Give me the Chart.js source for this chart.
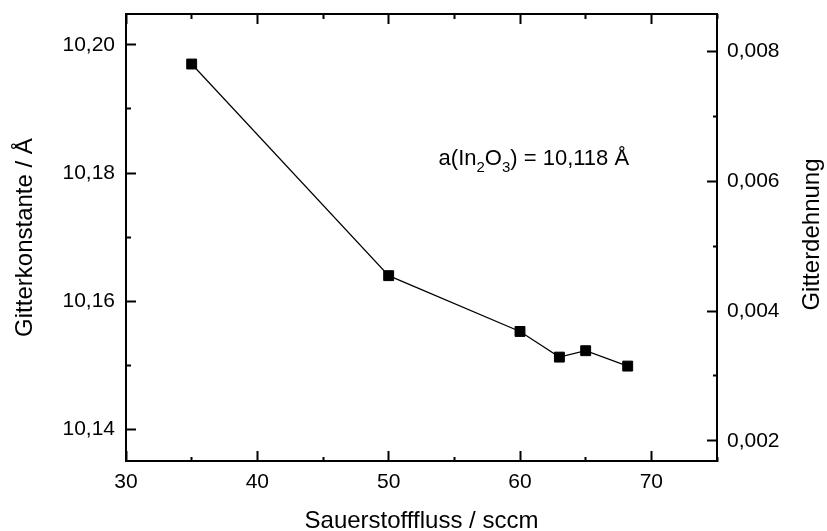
<!DOCTYPE html>
<html>
<head>
<meta charset="utf-8">
<script src="https://cdn.jsdelivr.net/npm/chart.js@4.4.1/dist/chart.umd.min.js"></script>
<style>
  body { margin: 0; background: #fff; }
  canvas { display: block; }
</style>
</head>
<body>
<canvas id="gitterChart" width="827" height="531"></canvas>
<script>
// Messwerte
var flussWerte = [35, 50, 60, 63, 65, 68.2];
var gitterKonstante = [10.197, 10.164, 10.1553, 10.1513, 10.1523, 10.1499];
var aReferenz = 10.118;

// Achsen
var xTicks = [30, 35, 40, 45, 50, 55, 60, 65, 70, 75];
var yTicks = [10.14, 10.15, 10.16, 10.17, 10.18, 10.19, 10.20];
var dehnungTicks = [0.002, 0.003, 0.004, 0.005, 0.006, 0.007, 0.008];
var xMin = 30, xMax = 75;
var yMin = 10.1351, yMax = 10.2048;

var anmerkungX = 53.8, anmerkungY = 10.1813;
var schrift = '"Liberation Sans", Arial, sans-serif';

function tickListe(werte) {
    return function (scale) {
        scale.ticks = werte.map(v => ({ value: v }));
    };
}

// feste Groesse, ohne Zusatzabstand fuer ueberstehende Beschriftungen
function groesse(breite, hoehe) {
    return function (s) {
        if (breite !== null) s.width = breite;
        if (hoehe !== null) s.height = hoehe;
        s.paddingTop = 0;
        s.paddingBottom = 0;
        s.paddingLeft = 0;
        s.paddingRight = 0;
    };
}

// lange Striche fuer beschriftete Werte, kurze dazwischen (ueber Strichelung)
function gitter(istHaupt, innenZuerst) {
    return {
        drawOnChartArea: false,
        drawTicks: true,
        tickLength: -10,
        tickWidth: 2,
        tickColor: '#000',
        tickBorderDash: ctx => istHaupt(ctx.tick.value) ? [] : [5, 100],
        tickBorderDashOffset: ctx => istHaupt(ctx.tick.value) ? 0 : (innenZuerst ? 100 : 0)
    };
}

var xHaupt = v => Math.round(v) % 10 === 0;
var yHaupt = v => Math.round(v * 100) % 2 === 0;
var dHaupt = v => Math.round(v * 1000) % 2 === 0;

var rand = { display: true, color: '#000', width: 2 };

var beschriftung = {
    id: 'beschriftung',
    afterDraw(chart) {
        var ctx = chart.ctx;
        var x = chart.scales.x.getPixelForValue(anmerkungX);
        var y = chart.scales.y.getPixelForValue(anmerkungY);
        ctx.save();
        ctx.fillStyle = '#000';
        ctx.textBaseline = 'alphabetic';
        ctx.textAlign = 'left';
        var teile = [['a(In', false], ['2', true], ['O', false], ['3', true], [') = 10,118 Å', false]];
        teile.forEach(t => {
            ctx.font = (t[1] ? '15px ' : '22px ') + schrift;
            ctx.fillText(t[0], x, y + (t[1] ? 7 : 0));
            x += ctx.measureText(t[0]).width;
        });

        // rechte Achsenbeschriftung, von unten nach oben
        var ca = chart.chartArea;
        ctx.font = '24px ' + schrift;
        ctx.textAlign = 'center';
        ctx.textBaseline = 'middle';
        ctx.translate(chart.width - 15, (ca.top + ca.bottom) / 2 - 3);
        ctx.rotate(-Math.PI / 2);
        ctx.fillText('Gitterdehnung', 0, 0);
        ctx.restore();
    }
};

var ctx = document.getElementById('gitterChart').getContext('2d');
var chart = new Chart(ctx, {
    type: 'line',
    data: {
        datasets: [{
            data: flussWerte.map((f, i) => ({ x: f, y: gitterKonstante[i] })),
            xAxisID: 'x',
            yAxisID: 'y',
            borderColor: '#000',
            borderWidth: 1.2,
            backgroundColor: '#000',
            pointStyle: 'rect',
            pointRadius: 7,
            pointBorderWidth: 1,
            pointBackgroundColor: '#000',
            pointBorderColor: '#000',
            tension: 0,
            fill: false
        }]
    },
    options: {
        responsive: false,
        animation: false,
        devicePixelRatio: 1,
        layout: { padding: { top: 14, left: 0, right: 0, bottom: 0 } },
        plugins: {
            legend: { display: false },
            tooltip: { enabled: false }
        },
        scales: {
            x: {
                type: 'linear',
                position: 'bottom',
                min: xMin,
                max: xMax,
                afterBuildTicks: tickListe(xTicks),
                afterFit: groesse(null, 70),
                grid: gitter(xHaupt, false),
                border: rand,
                ticks: {
                    padding: 19,
                    color: '#000',
                    font: { family: schrift, size: 21 },
                    maxRotation: 0,
                    autoSkip: false,
                    callback: v => xHaupt(v) ? String(v) : ''
                },
                title: {
                    display: true,
                    text: 'Sauerstofffluss / sccm',
                    color: '#000',
                    font: { family: schrift, size: 24, lineHeight: 1 },
                    padding: { top: 0, bottom: -2 }
                }
            },
            x2: {
                type: 'linear',
                position: 'top',
                min: xMin,
                max: xMax,
                afterBuildTicks: tickListe(xTicks),
                afterFit: groesse(null, 0),
                grid: gitter(xHaupt, true),
                border: rand,
                ticks: { display: false }
            },
            y: {
                type: 'linear',
                position: 'left',
                min: yMin,
                max: yMax,
                afterBuildTicks: tickListe(yTicks),
                afterFit: groesse(126, null),
                grid: gitter(yHaupt, true),
                border: rand,
                ticks: {
                    padding: 21,
                    color: '#000',
                    font: { family: schrift, size: 21 },
                    autoSkip: false,
                    callback: v => yHaupt(v) ? v.toFixed(2).replace('.', ',') : ''
                },
                title: {
                    display: true,
                    text: 'Gitterkonstante / Å',
                    color: '#000',
                    font: { family: schrift, size: 24, lineHeight: 1 },
                    padding: { top: 13, bottom: 0 }
                }
            },
            y2: {
                type: 'linear',
                position: 'right',
                min: yMin / aReferenz - 1,
                max: yMax / aReferenz - 1,
                afterBuildTicks: tickListe(dehnungTicks),
                afterFit: groesse(110, null),
                grid: gitter(dHaupt, false),
                border: rand,
                ticks: {
                    padding: 20,
                    color: '#000',
                    font: { family: schrift, size: 21 },
                    autoSkip: false,
                    callback: v => dHaupt(v) ? v.toFixed(3).replace('.', ',') : ''
                }
            }
        }
    },
    plugins: [beschriftung]
});
</script>
</body>
</html>
